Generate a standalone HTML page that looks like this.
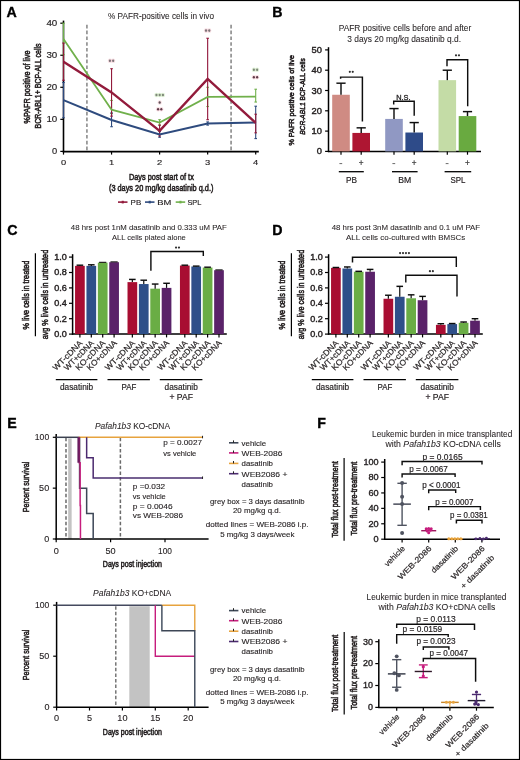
<!DOCTYPE html>
<html><head><meta charset="utf-8"><title>Figure</title>
<style>html,body{margin:0;padding:0;background:#fff;}body{width:520px;height:760px;overflow:hidden;font-family:"Liberation Sans", sans-serif;}svg{display:block;will-change:transform;}</style>
</head><body>
<svg width="520" height="760" viewBox="0 0 520 760" font-family='"Liberation Sans", sans-serif' fill="#231f20">
<rect x="0" y="0" width="520" height="760" fill="#fff"/>
<defs><filter id="b" x="0" y="0" width="1" height="1"><feGaussianBlur stdDeviation="0.35"/></filter></defs>
<g filter="url(#b)">
<text x="6.6" y="17" font-size="14.2" font-weight="bold" fill="#000" stroke="#000" stroke-width="0.35">A</text>
<text x="161" y="19" font-size="8.2" text-anchor="middle" textLength="106" lengthAdjust="spacingAndGlyphs" stroke="#231f20" stroke-width="0.06">% PAFR-positive cells in vivo</text>
<line x1="86.93" y1="24.8" x2="86.93" y2="151.4" stroke="#767676" stroke-width="1.35" stroke-dasharray="3.6,2.2"/>
<line x1="231.07" y1="24.8" x2="231.07" y2="151.4" stroke="#767676" stroke-width="1.35" stroke-dasharray="3.6,2.2"/>
<line x1="63.5" y1="20.6" x2="63.5" y2="152.3" stroke="#000" stroke-width="1.6" />
<line x1="62.7" y1="151.6" x2="258.8" y2="151.6" stroke="#000" stroke-width="1.9" />
<line x1="60.3" y1="151.4" x2="63.5" y2="151.4" stroke="#000" stroke-width="1.2" />
<text x="57.3" y="154.1" font-size="8.2" text-anchor="end" textLength="5.2" lengthAdjust="spacingAndGlyphs" stroke="#231f20" stroke-width="0.15">0</text>
<line x1="60.3" y1="119.35" x2="63.5" y2="119.35" stroke="#000" stroke-width="1.2" />
<text x="57.3" y="122.05" font-size="8.2" text-anchor="end" textLength="10.9" lengthAdjust="spacingAndGlyphs" stroke="#231f20" stroke-width="0.15">10</text>
<line x1="60.3" y1="87.3" x2="63.5" y2="87.3" stroke="#000" stroke-width="1.2" />
<text x="57.3" y="90" font-size="8.2" text-anchor="end" textLength="10.9" lengthAdjust="spacingAndGlyphs" stroke="#231f20" stroke-width="0.15">20</text>
<line x1="60.3" y1="55.25" x2="63.5" y2="55.25" stroke="#000" stroke-width="1.2" />
<text x="57.3" y="57.95" font-size="8.2" text-anchor="end" textLength="10.9" lengthAdjust="spacingAndGlyphs" stroke="#231f20" stroke-width="0.15">30</text>
<line x1="60.3" y1="23.2" x2="63.5" y2="23.2" stroke="#000" stroke-width="1.2" />
<text x="57.3" y="25.9" font-size="8.2" text-anchor="end" textLength="10.9" lengthAdjust="spacingAndGlyphs" stroke="#231f20" stroke-width="0.15">40</text>
<line x1="63.5" y1="151.4" x2="63.5" y2="154.6" stroke="#000" stroke-width="1.2" />
<text x="63.5" y="165.3" font-size="8" text-anchor="middle" textLength="5.2" lengthAdjust="spacingAndGlyphs" stroke="#231f20" stroke-width="0.15">0</text>
<line x1="111.55" y1="151.4" x2="111.55" y2="154.6" stroke="#000" stroke-width="1.2" />
<text x="111.55" y="165.3" font-size="8" text-anchor="middle" textLength="5.2" lengthAdjust="spacingAndGlyphs" stroke="#231f20" stroke-width="0.15">1</text>
<line x1="159.6" y1="151.4" x2="159.6" y2="154.6" stroke="#000" stroke-width="1.2" />
<text x="159.6" y="165.3" font-size="8" text-anchor="middle" textLength="5.2" lengthAdjust="spacingAndGlyphs" stroke="#231f20" stroke-width="0.15">2</text>
<line x1="207.65" y1="151.4" x2="207.65" y2="154.6" stroke="#000" stroke-width="1.2" />
<text x="207.65" y="165.3" font-size="8" text-anchor="middle" textLength="5.2" lengthAdjust="spacingAndGlyphs" stroke="#231f20" stroke-width="0.15">3</text>
<line x1="255.7" y1="151.4" x2="255.7" y2="154.6" stroke="#000" stroke-width="1.2" />
<text x="255.7" y="165.3" font-size="8" text-anchor="middle" textLength="5.2" lengthAdjust="spacingAndGlyphs" stroke="#231f20" stroke-width="0.15">4</text>
<text transform="translate(30.2,87) rotate(-90)" x="0" y="0" font-size="9.4" text-anchor="middle" textLength="73" lengthAdjust="spacingAndGlyphs" stroke="#231f20" stroke-width="0.55">%PAFR positive of live</text>
<text transform="translate(41,86) rotate(-90)" x="0" y="0" font-size="9.4" text-anchor="middle" textLength="85" lengthAdjust="spacingAndGlyphs" stroke="#231f20" stroke-width="0.55">BCR-ABL1+ BCP-ALL cells</text>
<text x="161.4" y="179.8" font-size="9.4" text-anchor="middle" textLength="64.8" lengthAdjust="spacingAndGlyphs" stroke="#231f20" stroke-width="0.55">Days post start of tx</text>
<text x="161.2" y="191.2" font-size="9.4" text-anchor="middle" textLength="104.5" lengthAdjust="spacingAndGlyphs" stroke="#231f20" stroke-width="0.55">(3 days 20 mg/kg dasatinib q.d.)</text>
<line x1="118" y1="202.1" x2="127.5" y2="202.1" stroke="#921a3b" stroke-width="1.6" />
<rect x="121.7" y="200.8" width="2.1" height="2.6" fill="#921a3b"/>
<text x="130.6" y="204.6" font-size="7.6" textLength="10.6" lengthAdjust="spacingAndGlyphs" stroke="#231f20" stroke-width="0.15">PB</text>
<line x1="145" y1="202.1" x2="154.5" y2="202.1" stroke="#2e4b7e" stroke-width="1.6" />
<rect x="148.7" y="200.8" width="2.1" height="2.6" fill="#2e4b7e"/>
<text x="157.2" y="204.6" font-size="7.6" textLength="14.1" lengthAdjust="spacingAndGlyphs" stroke="#231f20" stroke-width="0.15">BM</text>
<line x1="175.7" y1="202.1" x2="185.2" y2="202.1" stroke="#70b04b" stroke-width="1.6" />
<rect x="179.4" y="200.8" width="2.1" height="2.6" fill="#70b04b"/>
<text x="187.4" y="204.6" font-size="7.6" textLength="14" lengthAdjust="spacingAndGlyphs" stroke="#231f20" stroke-width="0.15">SPL</text>
<line x1="63.5" y1="23.2" x2="63.5" y2="54.61" stroke="#70b04b" stroke-width="1.1" />
<line x1="62.2" y1="23.2" x2="64.8" y2="23.2" stroke="#70b04b" stroke-width="1.1" />
<line x1="62.2" y1="54.61" x2="64.8" y2="54.61" stroke="#70b04b" stroke-width="1.1" />
<line x1="111.55" y1="100.44" x2="111.55" y2="113.58" stroke="#70b04b" stroke-width="1.1" />
<line x1="110.25" y1="100.44" x2="112.85" y2="100.44" stroke="#70b04b" stroke-width="1.1" />
<line x1="110.25" y1="113.58" x2="112.85" y2="113.58" stroke="#70b04b" stroke-width="1.1" />
<line x1="159.6" y1="119.67" x2="159.6" y2="125.12" stroke="#70b04b" stroke-width="1.1" />
<line x1="158.3" y1="119.67" x2="160.9" y2="119.67" stroke="#70b04b" stroke-width="1.1" />
<line x1="158.3" y1="125.12" x2="160.9" y2="125.12" stroke="#70b04b" stroke-width="1.1" />
<line x1="207.65" y1="87.3" x2="207.65" y2="106.53" stroke="#70b04b" stroke-width="1.1" />
<line x1="206.35" y1="87.3" x2="208.95" y2="87.3" stroke="#70b04b" stroke-width="1.1" />
<line x1="206.35" y1="106.53" x2="208.95" y2="106.53" stroke="#70b04b" stroke-width="1.1" />
<line x1="255.7" y1="89.22" x2="255.7" y2="102.04" stroke="#70b04b" stroke-width="1.1" />
<line x1="254.4" y1="89.22" x2="257" y2="89.22" stroke="#70b04b" stroke-width="1.1" />
<line x1="254.4" y1="102.04" x2="257" y2="102.04" stroke="#70b04b" stroke-width="1.1" />
<line x1="63.5" y1="82.49" x2="63.5" y2="117.75" stroke="#2e4b7e" stroke-width="1.1" />
<line x1="62.2" y1="82.49" x2="64.8" y2="82.49" stroke="#2e4b7e" stroke-width="1.1" />
<line x1="62.2" y1="117.75" x2="64.8" y2="117.75" stroke="#2e4b7e" stroke-width="1.1" />
<line x1="111.55" y1="112.94" x2="111.55" y2="126.72" stroke="#2e4b7e" stroke-width="1.1" />
<line x1="110.25" y1="112.94" x2="112.85" y2="112.94" stroke="#2e4b7e" stroke-width="1.1" />
<line x1="110.25" y1="126.72" x2="112.85" y2="126.72" stroke="#2e4b7e" stroke-width="1.1" />
<line x1="159.6" y1="131.53" x2="159.6" y2="137.3" stroke="#2e4b7e" stroke-width="1.1" />
<line x1="158.3" y1="131.53" x2="160.9" y2="131.53" stroke="#2e4b7e" stroke-width="1.1" />
<line x1="158.3" y1="137.3" x2="160.9" y2="137.3" stroke="#2e4b7e" stroke-width="1.1" />
<line x1="207.65" y1="121.91" x2="207.65" y2="125.12" stroke="#2e4b7e" stroke-width="1.1" />
<line x1="206.35" y1="121.91" x2="208.95" y2="121.91" stroke="#2e4b7e" stroke-width="1.1" />
<line x1="206.35" y1="125.12" x2="208.95" y2="125.12" stroke="#2e4b7e" stroke-width="1.1" />
<line x1="255.7" y1="106.21" x2="255.7" y2="138.58" stroke="#2e4b7e" stroke-width="1.1" />
<line x1="254.4" y1="106.21" x2="257" y2="106.21" stroke="#2e4b7e" stroke-width="1.1" />
<line x1="254.4" y1="138.58" x2="257" y2="138.58" stroke="#2e4b7e" stroke-width="1.1" />
<line x1="63.5" y1="43.07" x2="63.5" y2="80.25" stroke="#921a3b" stroke-width="1.1" />
<line x1="62.2" y1="43.07" x2="64.8" y2="43.07" stroke="#921a3b" stroke-width="1.1" />
<line x1="62.2" y1="80.25" x2="64.8" y2="80.25" stroke="#921a3b" stroke-width="1.1" />
<line x1="111.55" y1="68.71" x2="111.55" y2="116.15" stroke="#921a3b" stroke-width="1.1" />
<line x1="110.25" y1="68.71" x2="112.85" y2="68.71" stroke="#921a3b" stroke-width="1.1" />
<line x1="110.25" y1="116.15" x2="112.85" y2="116.15" stroke="#921a3b" stroke-width="1.1" />
<line x1="159.6" y1="125.12" x2="159.6" y2="136.02" stroke="#921a3b" stroke-width="1.1" />
<line x1="158.3" y1="125.12" x2="160.9" y2="125.12" stroke="#921a3b" stroke-width="1.1" />
<line x1="158.3" y1="136.02" x2="160.9" y2="136.02" stroke="#921a3b" stroke-width="1.1" />
<line x1="207.65" y1="38.26" x2="207.65" y2="119.67" stroke="#921a3b" stroke-width="1.1" />
<line x1="206.35" y1="38.26" x2="208.95" y2="38.26" stroke="#921a3b" stroke-width="1.1" />
<line x1="206.35" y1="119.67" x2="208.95" y2="119.67" stroke="#921a3b" stroke-width="1.1" />
<line x1="255.7" y1="114.22" x2="255.7" y2="132.81" stroke="#921a3b" stroke-width="1.1" />
<line x1="254.4" y1="114.22" x2="257" y2="114.22" stroke="#921a3b" stroke-width="1.1" />
<line x1="254.4" y1="132.81" x2="257" y2="132.81" stroke="#921a3b" stroke-width="1.1" />
<polyline points="63.5,38.9 111.55,109.74 159.6,122.56 207.65,96.92 255.7,96.59" stroke="#70b04b" stroke-width="1.8" fill="none" stroke-linejoin="miter" />
<polyline points="63.5,100.12 111.55,119.99 159.6,134.41 207.65,123.52 255.7,122.56" stroke="#2e4b7e" stroke-width="2" fill="none" stroke-linejoin="miter" />
<polyline points="63.5,61.66 111.55,92.43 159.6,130.89 207.65,78.97 255.7,122.88" stroke="#921a3b" stroke-width="2.4" fill="none" stroke-linejoin="miter" />
<ellipse cx="109.92" cy="60.8" rx="2.1" ry="2.3" fill="#eaa0ae" fill-opacity="0.35"/>
<ellipse cx="113.17" cy="60.8" rx="2.1" ry="2.3" fill="#eaa0ae" fill-opacity="0.35"/>
<ellipse cx="109.92" cy="60.8" rx="1.1" ry="1.3" fill="#7d7478"/>
<ellipse cx="113.17" cy="60.8" rx="1.1" ry="1.3" fill="#7d7478"/>
<ellipse cx="156.45" cy="95" rx="2.1" ry="2.3" fill="#a8d890" fill-opacity="0.35"/>
<ellipse cx="159.7" cy="95" rx="2.1" ry="2.3" fill="#a8d890" fill-opacity="0.35"/>
<ellipse cx="162.95" cy="95" rx="2.1" ry="2.3" fill="#a8d890" fill-opacity="0.35"/>
<ellipse cx="156.45" cy="95" rx="1.1" ry="1.3" fill="#7f887a"/>
<ellipse cx="159.7" cy="95" rx="1.1" ry="1.3" fill="#7f887a"/>
<ellipse cx="162.95" cy="95" rx="1.1" ry="1.3" fill="#7f887a"/>
<ellipse cx="159.7" cy="102.5" rx="2.1" ry="2.3" fill="#eaa0ae" fill-opacity="0.35"/>
<ellipse cx="159.7" cy="102.5" rx="1.1" ry="1.3" fill="#5e5258"/>
<ellipse cx="158.07" cy="109.2" rx="2.1" ry="2.3" fill="#eaa0ae" fill-opacity="0.35"/>
<ellipse cx="161.32" cy="109.2" rx="2.1" ry="2.3" fill="#eaa0ae" fill-opacity="0.35"/>
<ellipse cx="158.07" cy="109.2" rx="1.1" ry="1.3" fill="#5e3a48"/>
<ellipse cx="161.32" cy="109.2" rx="1.1" ry="1.3" fill="#5e3a48"/>
<ellipse cx="206.02" cy="30.6" rx="2.1" ry="2.3" fill="#eaa0ae" fill-opacity="0.35"/>
<ellipse cx="209.27" cy="30.6" rx="2.1" ry="2.3" fill="#eaa0ae" fill-opacity="0.35"/>
<ellipse cx="206.02" cy="30.6" rx="1.1" ry="1.3" fill="#7d7478"/>
<ellipse cx="209.27" cy="30.6" rx="1.1" ry="1.3" fill="#7d7478"/>
<ellipse cx="253.88" cy="69.8" rx="2.1" ry="2.3" fill="#a8d890" fill-opacity="0.35"/>
<ellipse cx="257.12" cy="69.8" rx="2.1" ry="2.3" fill="#a8d890" fill-opacity="0.35"/>
<ellipse cx="253.88" cy="69.8" rx="1.1" ry="1.3" fill="#7f887a"/>
<ellipse cx="257.12" cy="69.8" rx="1.1" ry="1.3" fill="#7f887a"/>
<ellipse cx="253.88" cy="77.2" rx="2.1" ry="2.3" fill="#eaa0ae" fill-opacity="0.35"/>
<ellipse cx="257.12" cy="77.2" rx="2.1" ry="2.3" fill="#eaa0ae" fill-opacity="0.35"/>
<ellipse cx="253.88" cy="77.2" rx="1.1" ry="1.3" fill="#5e3a48"/>
<ellipse cx="257.12" cy="77.2" rx="1.1" ry="1.3" fill="#5e3a48"/>
<text x="272.3" y="17" font-size="14.2" font-weight="bold" fill="#000" stroke="#000" stroke-width="0.35">B</text>
<text x="405" y="30.9" font-size="8.2" text-anchor="middle" textLength="132.6" lengthAdjust="spacingAndGlyphs" stroke="#231f20" stroke-width="0.06">PAFR positive cells before and after</text>
<text x="404.2" y="41.8" font-size="8.2" text-anchor="middle" textLength="113.8" lengthAdjust="spacingAndGlyphs" stroke="#231f20" stroke-width="0.06">3 days 20 mg/kg dasatinib q.d.</text>
<line x1="328.5" y1="47.2" x2="328.5" y2="152.1" stroke="#000" stroke-width="1.5" />
<line x1="327.8" y1="151.4" x2="481" y2="151.4" stroke="#000" stroke-width="1.5" />
<line x1="325.1" y1="151.4" x2="328.5" y2="151.4" stroke="#000" stroke-width="1.2" />
<text x="322" y="154.4" font-size="8.4" text-anchor="end" textLength="5.2" lengthAdjust="spacingAndGlyphs" stroke="#231f20" stroke-width="0.38">0</text>
<line x1="325.1" y1="131.1" x2="328.5" y2="131.1" stroke="#000" stroke-width="1.2" />
<text x="322" y="134.1" font-size="8.4" text-anchor="end" textLength="10.4" lengthAdjust="spacingAndGlyphs" stroke="#231f20" stroke-width="0.38">10</text>
<line x1="325.1" y1="110.8" x2="328.5" y2="110.8" stroke="#000" stroke-width="1.2" />
<text x="322" y="113.8" font-size="8.4" text-anchor="end" textLength="10.4" lengthAdjust="spacingAndGlyphs" stroke="#231f20" stroke-width="0.38">20</text>
<line x1="325.1" y1="90.5" x2="328.5" y2="90.5" stroke="#000" stroke-width="1.2" />
<text x="322" y="93.5" font-size="8.4" text-anchor="end" textLength="10.4" lengthAdjust="spacingAndGlyphs" stroke="#231f20" stroke-width="0.38">30</text>
<line x1="325.1" y1="70.2" x2="328.5" y2="70.2" stroke="#000" stroke-width="1.2" />
<text x="322" y="73.2" font-size="8.4" text-anchor="end" textLength="10.4" lengthAdjust="spacingAndGlyphs" stroke="#231f20" stroke-width="0.38">40</text>
<line x1="325.1" y1="49.9" x2="328.5" y2="49.9" stroke="#000" stroke-width="1.2" />
<text x="322" y="52.9" font-size="8.4" text-anchor="end" textLength="10.4" lengthAdjust="spacingAndGlyphs" stroke="#231f20" stroke-width="0.38">50</text>
<text transform="translate(294.3,100.3) rotate(-90)" x="0" y="0" font-size="7.9" text-anchor="middle" textLength="90.5" lengthAdjust="spacingAndGlyphs" stroke="#231f20" stroke-width="0.55">% PAFR positive cells of live</text>
<text transform="translate(304.9,96.5) rotate(-90)" x="0" y="0" font-size="8.0" text-anchor="middle" textLength="76.6" lengthAdjust="spacingAndGlyphs" stroke="#231f20" stroke-width="0.55"><tspan font-style="italic">BCR-ABL1</tspan> BCP-ALL cells</text>
<rect x="332.2" y="94.76" width="17.6" height="56.64" fill="#cf8b83"/>
<line x1="341" y1="94.76" x2="341" y2="83.19" stroke="#111" stroke-width="1.45" />
<line x1="336.4" y1="83.19" x2="345.6" y2="83.19" stroke="#111" stroke-width="1.45" />
<line x1="341" y1="151.4" x2="341" y2="154.7" stroke="#000" stroke-width="1.2" />
<rect x="352.4" y="132.93" width="17.6" height="18.47" fill="#ae1231"/>
<line x1="361.2" y1="132.93" x2="361.2" y2="127.85" stroke="#111" stroke-width="1.45" />
<line x1="356.6" y1="127.85" x2="365.8" y2="127.85" stroke="#111" stroke-width="1.45" />
<line x1="361.2" y1="151.4" x2="361.2" y2="154.7" stroke="#000" stroke-width="1.2" />
<rect x="385.2" y="118.92" width="17.6" height="32.48" fill="#9098c3"/>
<line x1="394" y1="118.92" x2="394" y2="108.57" stroke="#111" stroke-width="1.45" />
<line x1="389.4" y1="108.57" x2="398.6" y2="108.57" stroke="#111" stroke-width="1.45" />
<line x1="394" y1="151.4" x2="394" y2="154.7" stroke="#000" stroke-width="1.2" />
<rect x="405.4" y="132.52" width="17.6" height="18.88" fill="#2d4c89"/>
<line x1="414.2" y1="132.52" x2="414.2" y2="122.57" stroke="#111" stroke-width="1.45" />
<line x1="409.6" y1="122.57" x2="418.8" y2="122.57" stroke="#111" stroke-width="1.45" />
<line x1="414.2" y1="151.4" x2="414.2" y2="154.7" stroke="#000" stroke-width="1.2" />
<rect x="438.5" y="80.15" width="17.6" height="71.25" fill="#c4dca6"/>
<line x1="447.3" y1="80.15" x2="447.3" y2="70.2" stroke="#111" stroke-width="1.45" />
<line x1="442.7" y1="70.2" x2="451.9" y2="70.2" stroke="#111" stroke-width="1.45" />
<line x1="447.3" y1="151.4" x2="447.3" y2="154.7" stroke="#000" stroke-width="1.2" />
<rect x="458.7" y="116.08" width="17.6" height="35.32" fill="#69aa3f"/>
<line x1="467.5" y1="116.08" x2="467.5" y2="111.61" stroke="#111" stroke-width="1.45" />
<line x1="462.9" y1="111.61" x2="472.1" y2="111.61" stroke="#111" stroke-width="1.45" />
<line x1="467.5" y1="151.4" x2="467.5" y2="154.7" stroke="#000" stroke-width="1.2" />
<line x1="339.4" y1="163.6" x2="342.2" y2="163.6" stroke="#444" stroke-width="0.8" />
<text x="361.2" y="166.3" font-size="8.2" text-anchor="middle" fill="#333" stroke="#333" stroke-width="0.18">+</text>
<line x1="392.4" y1="163.6" x2="395.2" y2="163.6" stroke="#444" stroke-width="0.8" />
<text x="414.2" y="166.3" font-size="8.2" text-anchor="middle" fill="#333" stroke="#333" stroke-width="0.18">+</text>
<line x1="445.7" y1="163.6" x2="448.5" y2="163.6" stroke="#444" stroke-width="0.8" />
<text x="467.5" y="166.3" font-size="8.2" text-anchor="middle" fill="#333" stroke="#333" stroke-width="0.18">+</text>
<polyline points="340.6,78.69 340.6,77.1 362.4,77.1 362.4,121.5" stroke="#111" stroke-width="1.45" fill="none" stroke-linejoin="miter" />
<circle cx="349.82" cy="71.8" r="1.08" fill="#2e2e2e"/>
<circle cx="352.77" cy="71.8" r="1.08" fill="#2e2e2e"/>
<polyline points="393.7,104.6 393.7,101.2 414.2,101.2 414.2,115.7" stroke="#111" stroke-width="1.45" fill="none" stroke-linejoin="miter" />
<text x="403.4" y="99.6" font-size="7.6" text-anchor="middle" textLength="14.4" lengthAdjust="spacingAndGlyphs" stroke="#231f20" stroke-width="0.3">N.S.</text>
<polyline points="447,66.3 447,59.8 467.7,59.8 467.7,106.3" stroke="#111" stroke-width="1.45" fill="none" stroke-linejoin="miter" />
<circle cx="456.02" cy="55.3" r="1.08" fill="#2e2e2e"/>
<circle cx="458.97" cy="55.3" r="1.08" fill="#2e2e2e"/>
<line x1="338.8" y1="171.7" x2="363.8" y2="171.7" stroke="#000" stroke-width="1.3" />
<text x="351.4" y="182.7" font-size="8.2" text-anchor="middle" textLength="11" lengthAdjust="spacingAndGlyphs" stroke="#231f20" stroke-width="0.18">PB</text>
<line x1="392" y1="171.7" x2="417.6" y2="171.7" stroke="#000" stroke-width="1.3" />
<text x="404.8" y="182.7" font-size="8.2" text-anchor="middle" textLength="13" lengthAdjust="spacingAndGlyphs" stroke="#231f20" stroke-width="0.18">BM</text>
<line x1="444.6" y1="171.7" x2="471.2" y2="171.7" stroke="#000" stroke-width="1.3" />
<text x="457.9" y="182.7" font-size="8.2" text-anchor="middle" textLength="15" lengthAdjust="spacingAndGlyphs" stroke="#231f20" stroke-width="0.18">SPL</text>
<text x="7.3" y="234.6" font-size="14.2" font-weight="bold" fill="#000" stroke="#000" stroke-width="0.35">C</text>
<text x="148.8" y="230.4" font-size="7.4" text-anchor="middle" textLength="156" lengthAdjust="spacingAndGlyphs" stroke="#231f20" stroke-width="0.06">48 hrs post 1nM dasatinib and 0.333 uM PAF</text>
<text x="148.9" y="239.9" font-size="7.4" text-anchor="middle" textLength="73.9" lengthAdjust="spacingAndGlyphs" stroke="#231f20" stroke-width="0.06">ALL cells plated alone</text>
<line x1="72.6" y1="254.2" x2="72.6" y2="334.8" stroke="#000" stroke-width="1.5" />
<line x1="71.9" y1="334.1" x2="226.8" y2="334.1" stroke="#000" stroke-width="1.5" />
<line x1="69" y1="334.1" x2="72.6" y2="334.1" stroke="#000" stroke-width="1.2" />
<text x="66.8" y="336.9" font-size="8.2" text-anchor="end" textLength="12.6" lengthAdjust="spacingAndGlyphs" stroke="#231f20" stroke-width="0.38">0.0</text>
<line x1="69" y1="318.7" x2="72.6" y2="318.7" stroke="#000" stroke-width="1.2" />
<text x="66.8" y="321.5" font-size="8.2" text-anchor="end" textLength="12.6" lengthAdjust="spacingAndGlyphs" stroke="#231f20" stroke-width="0.38">0.2</text>
<line x1="69" y1="303.3" x2="72.6" y2="303.3" stroke="#000" stroke-width="1.2" />
<text x="66.8" y="306.1" font-size="8.2" text-anchor="end" textLength="12.6" lengthAdjust="spacingAndGlyphs" stroke="#231f20" stroke-width="0.38">0.4</text>
<line x1="69" y1="287.9" x2="72.6" y2="287.9" stroke="#000" stroke-width="1.2" />
<text x="66.8" y="290.7" font-size="8.2" text-anchor="end" textLength="12.6" lengthAdjust="spacingAndGlyphs" stroke="#231f20" stroke-width="0.38">0.6</text>
<line x1="69" y1="272.5" x2="72.6" y2="272.5" stroke="#000" stroke-width="1.2" />
<text x="66.8" y="275.3" font-size="8.2" text-anchor="end" textLength="12.6" lengthAdjust="spacingAndGlyphs" stroke="#231f20" stroke-width="0.38">0.8</text>
<line x1="69" y1="257.1" x2="72.6" y2="257.1" stroke="#000" stroke-width="1.2" />
<text x="66.8" y="259.9" font-size="8.2" text-anchor="end" textLength="12.6" lengthAdjust="spacingAndGlyphs" stroke="#231f20" stroke-width="0.38">1.0</text>
<text transform="translate(28.6,295) rotate(-90)" x="0" y="0" font-size="9.2" text-anchor="middle" textLength="68.8" lengthAdjust="spacingAndGlyphs" stroke="#231f20" stroke-width="0.55">% live cells in treated</text>
<line x1="35.4" y1="253.2" x2="35.4" y2="336.2" stroke="#000" stroke-width="1.2" />
<text transform="translate(48.4,294.6) rotate(-90)" x="0" y="0" font-size="9.2" text-anchor="middle" textLength="89.5" lengthAdjust="spacingAndGlyphs" stroke="#231f20" stroke-width="0.55">avg % live cells in untreated</text>
<rect x="75.05" y="265.88" width="9.7" height="68.22" fill="#a80f31"/>
<line x1="79.9" y1="265.88" x2="79.9" y2="265.19" stroke="#111" stroke-width="1.2" />
<line x1="76.6" y1="265.19" x2="83.2" y2="265.19" stroke="#111" stroke-width="1.45" />
<line x1="79.9" y1="334.1" x2="79.9" y2="337.4" stroke="#000" stroke-width="1.2" />
<text transform="translate(83.1,343.7) rotate(-45)" x="0" y="0" font-size="8.2" text-anchor="end" textLength="38.5" lengthAdjust="spacingAndGlyphs" stroke="#231f20" stroke-width="0.18">WT-cDNA</text>
<rect x="86.45" y="265.88" width="9.7" height="68.22" fill="#2e4f89"/>
<line x1="91.3" y1="265.88" x2="91.3" y2="264.8" stroke="#111" stroke-width="1.2" />
<line x1="88" y1="264.8" x2="94.6" y2="264.8" stroke="#111" stroke-width="1.45" />
<line x1="91.3" y1="334.1" x2="91.3" y2="337.4" stroke="#000" stroke-width="1.2" />
<text transform="translate(94.5,343.7) rotate(-45)" x="0" y="0" font-size="8.2" text-anchor="end" textLength="38.5" lengthAdjust="spacingAndGlyphs" stroke="#231f20" stroke-width="0.18">WT+cDNA</text>
<rect x="97.85" y="262.64" width="9.7" height="71.46" fill="#6aad45"/>
<line x1="99.1" y1="262.34" x2="106.3" y2="262.34" stroke="#111" stroke-width="1.1" />
<line x1="102.7" y1="334.1" x2="102.7" y2="337.4" stroke="#000" stroke-width="1.2" />
<text transform="translate(105.9,343.7) rotate(-45)" x="0" y="0" font-size="8.2" text-anchor="end" textLength="38.5" lengthAdjust="spacingAndGlyphs" stroke="#231f20" stroke-width="0.18">KO-cDNA</text>
<rect x="109.25" y="262.18" width="9.7" height="71.92" fill="#5a2469"/>
<line x1="110.5" y1="261.88" x2="117.7" y2="261.88" stroke="#111" stroke-width="1.1" />
<line x1="114.1" y1="334.1" x2="114.1" y2="337.4" stroke="#000" stroke-width="1.2" />
<text transform="translate(117.3,343.7) rotate(-45)" x="0" y="0" font-size="8.2" text-anchor="end" textLength="38.5" lengthAdjust="spacingAndGlyphs" stroke="#231f20" stroke-width="0.18">KO+cDNA</text>
<rect x="127.5" y="282.12" width="9.7" height="51.98" fill="#a80f31"/>
<line x1="132.35" y1="282.12" x2="132.35" y2="279.43" stroke="#111" stroke-width="1.2" />
<line x1="129.05" y1="279.43" x2="135.65" y2="279.43" stroke="#111" stroke-width="1.45" />
<line x1="132.35" y1="334.1" x2="132.35" y2="337.4" stroke="#000" stroke-width="1.2" />
<text transform="translate(135.55,343.7) rotate(-45)" x="0" y="0" font-size="8.2" text-anchor="end" textLength="38.5" lengthAdjust="spacingAndGlyphs" stroke="#231f20" stroke-width="0.18">WT-cDNA</text>
<rect x="138.9" y="284.05" width="9.7" height="50.05" fill="#2e4f89"/>
<line x1="143.75" y1="284.05" x2="143.75" y2="280.2" stroke="#111" stroke-width="1.2" />
<line x1="140.45" y1="280.2" x2="147.05" y2="280.2" stroke="#111" stroke-width="1.45" />
<line x1="143.75" y1="334.1" x2="143.75" y2="337.4" stroke="#000" stroke-width="1.2" />
<text transform="translate(146.95,343.7) rotate(-45)" x="0" y="0" font-size="8.2" text-anchor="end" textLength="38.5" lengthAdjust="spacingAndGlyphs" stroke="#231f20" stroke-width="0.18">WT+cDNA</text>
<rect x="150.3" y="288.67" width="9.7" height="45.43" fill="#6aad45"/>
<line x1="155.15" y1="288.67" x2="155.15" y2="284.05" stroke="#111" stroke-width="1.2" />
<line x1="151.85" y1="284.05" x2="158.45" y2="284.05" stroke="#111" stroke-width="1.45" />
<line x1="155.15" y1="334.1" x2="155.15" y2="337.4" stroke="#000" stroke-width="1.2" />
<text transform="translate(158.35,343.7) rotate(-45)" x="0" y="0" font-size="8.2" text-anchor="end" textLength="38.5" lengthAdjust="spacingAndGlyphs" stroke="#231f20" stroke-width="0.18">KO-cDNA</text>
<rect x="161.7" y="287.9" width="9.7" height="46.2" fill="#5a2469"/>
<line x1="166.55" y1="287.9" x2="166.55" y2="283.28" stroke="#111" stroke-width="1.2" />
<line x1="163.25" y1="283.28" x2="169.85" y2="283.28" stroke="#111" stroke-width="1.45" />
<line x1="166.55" y1="334.1" x2="166.55" y2="337.4" stroke="#000" stroke-width="1.2" />
<text transform="translate(169.75,343.7) rotate(-45)" x="0" y="0" font-size="8.2" text-anchor="end" textLength="38.5" lengthAdjust="spacingAndGlyphs" stroke="#231f20" stroke-width="0.18">KO+cDNA</text>
<rect x="179.95" y="265.57" width="9.7" height="68.53" fill="#a80f31"/>
<line x1="184.8" y1="265.57" x2="184.8" y2="265.19" stroke="#111" stroke-width="1.2" />
<line x1="181.5" y1="265.19" x2="188.1" y2="265.19" stroke="#111" stroke-width="1.45" />
<line x1="184.8" y1="334.1" x2="184.8" y2="337.4" stroke="#000" stroke-width="1.2" />
<text transform="translate(188,343.7) rotate(-45)" x="0" y="0" font-size="8.2" text-anchor="end" textLength="38.5" lengthAdjust="spacingAndGlyphs" stroke="#231f20" stroke-width="0.18">WT-cDNA</text>
<rect x="191.35" y="266.49" width="9.7" height="67.61" fill="#2e4f89"/>
<line x1="196.2" y1="266.49" x2="196.2" y2="266.11" stroke="#111" stroke-width="1.2" />
<line x1="192.9" y1="266.11" x2="199.5" y2="266.11" stroke="#111" stroke-width="1.45" />
<line x1="196.2" y1="334.1" x2="196.2" y2="337.4" stroke="#000" stroke-width="1.2" />
<text transform="translate(199.4,343.7) rotate(-45)" x="0" y="0" font-size="8.2" text-anchor="end" textLength="38.5" lengthAdjust="spacingAndGlyphs" stroke="#231f20" stroke-width="0.18">WT+cDNA</text>
<rect x="202.75" y="267.57" width="9.7" height="66.53" fill="#6aad45"/>
<line x1="207.6" y1="267.57" x2="207.6" y2="267.19" stroke="#111" stroke-width="1.2" />
<line x1="204.3" y1="267.19" x2="210.9" y2="267.19" stroke="#111" stroke-width="1.45" />
<line x1="207.6" y1="334.1" x2="207.6" y2="337.4" stroke="#000" stroke-width="1.2" />
<text transform="translate(210.8,343.7) rotate(-45)" x="0" y="0" font-size="8.2" text-anchor="end" textLength="38.5" lengthAdjust="spacingAndGlyphs" stroke="#231f20" stroke-width="0.18">KO-cDNA</text>
<rect x="214.15" y="270.19" width="9.7" height="63.91" fill="#5a2469"/>
<line x1="215.4" y1="269.89" x2="222.6" y2="269.89" stroke="#111" stroke-width="1.1" />
<line x1="219" y1="334.1" x2="219" y2="337.4" stroke="#000" stroke-width="1.2" />
<text transform="translate(222.2,343.7) rotate(-45)" x="0" y="0" font-size="8.2" text-anchor="end" textLength="38.5" lengthAdjust="spacingAndGlyphs" stroke="#231f20" stroke-width="0.18">KO+cDNA</text>
<line x1="55.8" y1="379.7" x2="97.4" y2="379.7" stroke="#000" stroke-width="1.3" />
<line x1="107.5" y1="379.7" x2="149.9" y2="379.7" stroke="#000" stroke-width="1.3" />
<line x1="159.8" y1="379.7" x2="202.4" y2="379.7" stroke="#000" stroke-width="1.3" />
<text x="76.6" y="390.4" font-size="8.2" text-anchor="middle" textLength="33.2" lengthAdjust="spacingAndGlyphs" stroke="#231f20" stroke-width="0.18">dasatinib</text>
<text x="129" y="390.4" font-size="8.2" text-anchor="middle" textLength="14.8" lengthAdjust="spacingAndGlyphs" stroke="#231f20" stroke-width="0.18">PAF</text>
<text x="181.2" y="390.4" font-size="8.2" text-anchor="middle" textLength="33.2" lengthAdjust="spacingAndGlyphs" stroke="#231f20" stroke-width="0.18">dasatinib</text>
<text x="181.2" y="400.3" font-size="8.2" text-anchor="middle" textLength="23.5" lengthAdjust="spacingAndGlyphs" stroke="#231f20" stroke-width="0.18">+ PAF</text>
<polyline points="150.9,270.7 150.9,251.5 203.3,251.5 203.3,255.9" stroke="#111" stroke-width="1.45" fill="none" stroke-linejoin="miter" />
<circle cx="176.03" cy="247.6" r="1.08" fill="#2e2e2e"/>
<circle cx="178.97" cy="247.6" r="1.08" fill="#2e2e2e"/>
<text x="272.3" y="234.6" font-size="14.2" font-weight="bold" fill="#000" stroke="#000" stroke-width="0.35">D</text>
<text x="405.9" y="230.4" font-size="7.4" text-anchor="middle" textLength="148.4" lengthAdjust="spacingAndGlyphs" stroke="#231f20" stroke-width="0.06">48 hrs post 3nM dasatinib and 0.1 uM PAF</text>
<text x="405.6" y="239.9" font-size="7.4" text-anchor="middle" textLength="119.2" lengthAdjust="spacingAndGlyphs" stroke="#231f20" stroke-width="0.06">ALL cells co-cultured with BMSCs</text>
<line x1="328.6" y1="254.2" x2="328.6" y2="334.8" stroke="#000" stroke-width="1.5" />
<line x1="327.9" y1="334.1" x2="482.8" y2="334.1" stroke="#000" stroke-width="1.5" />
<line x1="325" y1="334.1" x2="328.6" y2="334.1" stroke="#000" stroke-width="1.2" />
<text x="322.8" y="336.9" font-size="8.2" text-anchor="end" textLength="12.6" lengthAdjust="spacingAndGlyphs" stroke="#231f20" stroke-width="0.38">0.0</text>
<line x1="325" y1="318.7" x2="328.6" y2="318.7" stroke="#000" stroke-width="1.2" />
<text x="322.8" y="321.5" font-size="8.2" text-anchor="end" textLength="12.6" lengthAdjust="spacingAndGlyphs" stroke="#231f20" stroke-width="0.38">0.2</text>
<line x1="325" y1="303.3" x2="328.6" y2="303.3" stroke="#000" stroke-width="1.2" />
<text x="322.8" y="306.1" font-size="8.2" text-anchor="end" textLength="12.6" lengthAdjust="spacingAndGlyphs" stroke="#231f20" stroke-width="0.38">0.4</text>
<line x1="325" y1="287.9" x2="328.6" y2="287.9" stroke="#000" stroke-width="1.2" />
<text x="322.8" y="290.7" font-size="8.2" text-anchor="end" textLength="12.6" lengthAdjust="spacingAndGlyphs" stroke="#231f20" stroke-width="0.38">0.6</text>
<line x1="325" y1="272.5" x2="328.6" y2="272.5" stroke="#000" stroke-width="1.2" />
<text x="322.8" y="275.3" font-size="8.2" text-anchor="end" textLength="12.6" lengthAdjust="spacingAndGlyphs" stroke="#231f20" stroke-width="0.38">0.8</text>
<line x1="325" y1="257.1" x2="328.6" y2="257.1" stroke="#000" stroke-width="1.2" />
<text x="322.8" y="259.9" font-size="8.2" text-anchor="end" textLength="12.6" lengthAdjust="spacingAndGlyphs" stroke="#231f20" stroke-width="0.38">1.0</text>
<text transform="translate(284.6,295) rotate(-90)" x="0" y="0" font-size="9.2" text-anchor="middle" textLength="68.8" lengthAdjust="spacingAndGlyphs" stroke="#231f20" stroke-width="0.55">% live cells in treated</text>
<line x1="291.4" y1="253.2" x2="291.4" y2="336.2" stroke="#000" stroke-width="1.2" />
<text transform="translate(304.4,294.6) rotate(-90)" x="0" y="0" font-size="9.2" text-anchor="middle" textLength="89.5" lengthAdjust="spacingAndGlyphs" stroke="#231f20" stroke-width="0.55">avg % live cells in untreated</text>
<rect x="331.05" y="267.88" width="9.7" height="66.22" fill="#a80f31"/>
<line x1="335.9" y1="267.88" x2="335.9" y2="267.5" stroke="#111" stroke-width="1.2" />
<line x1="332.6" y1="267.5" x2="339.2" y2="267.5" stroke="#111" stroke-width="1.45" />
<line x1="335.9" y1="334.1" x2="335.9" y2="337.4" stroke="#000" stroke-width="1.2" />
<text transform="translate(339.1,343.7) rotate(-45)" x="0" y="0" font-size="8.2" text-anchor="end" textLength="38.5" lengthAdjust="spacingAndGlyphs" stroke="#231f20" stroke-width="0.18">WT-cDNA</text>
<rect x="342.45" y="268.5" width="9.7" height="65.6" fill="#2e4f89"/>
<line x1="347.3" y1="268.5" x2="347.3" y2="266.96" stroke="#111" stroke-width="1.2" />
<line x1="344" y1="266.96" x2="350.6" y2="266.96" stroke="#111" stroke-width="1.45" />
<line x1="347.3" y1="334.1" x2="347.3" y2="337.4" stroke="#000" stroke-width="1.2" />
<text transform="translate(350.5,343.7) rotate(-45)" x="0" y="0" font-size="8.2" text-anchor="end" textLength="38.5" lengthAdjust="spacingAndGlyphs" stroke="#231f20" stroke-width="0.18">WT+cDNA</text>
<rect x="353.85" y="271.73" width="9.7" height="62.37" fill="#6aad45"/>
<line x1="358.7" y1="271.73" x2="358.7" y2="271.35" stroke="#111" stroke-width="1.2" />
<line x1="355.4" y1="271.35" x2="362" y2="271.35" stroke="#111" stroke-width="1.45" />
<line x1="358.7" y1="334.1" x2="358.7" y2="337.4" stroke="#000" stroke-width="1.2" />
<text transform="translate(361.9,343.7) rotate(-45)" x="0" y="0" font-size="8.2" text-anchor="end" textLength="38.5" lengthAdjust="spacingAndGlyphs" stroke="#231f20" stroke-width="0.18">KO-cDNA</text>
<rect x="365.25" y="271.73" width="9.7" height="62.37" fill="#5a2469"/>
<line x1="370.1" y1="271.73" x2="370.1" y2="269.42" stroke="#111" stroke-width="1.2" />
<line x1="366.8" y1="269.42" x2="373.4" y2="269.42" stroke="#111" stroke-width="1.45" />
<line x1="370.1" y1="334.1" x2="370.1" y2="337.4" stroke="#000" stroke-width="1.2" />
<text transform="translate(373.3,343.7) rotate(-45)" x="0" y="0" font-size="8.2" text-anchor="end" textLength="38.5" lengthAdjust="spacingAndGlyphs" stroke="#231f20" stroke-width="0.18">KO+cDNA</text>
<rect x="383.5" y="298.76" width="9.7" height="35.34" fill="#a80f31"/>
<line x1="388.35" y1="298.76" x2="388.35" y2="295.22" stroke="#111" stroke-width="1.2" />
<line x1="385.05" y1="295.22" x2="391.65" y2="295.22" stroke="#111" stroke-width="1.45" />
<line x1="388.35" y1="334.1" x2="388.35" y2="337.4" stroke="#000" stroke-width="1.2" />
<text transform="translate(391.55,343.7) rotate(-45)" x="0" y="0" font-size="8.2" text-anchor="end" textLength="38.5" lengthAdjust="spacingAndGlyphs" stroke="#231f20" stroke-width="0.18">WT-cDNA</text>
<rect x="394.9" y="296.75" width="9.7" height="37.35" fill="#2e4f89"/>
<line x1="399.75" y1="296.75" x2="399.75" y2="286.36" stroke="#111" stroke-width="1.2" />
<line x1="396.45" y1="286.36" x2="403.05" y2="286.36" stroke="#111" stroke-width="1.45" />
<line x1="399.75" y1="334.1" x2="399.75" y2="337.4" stroke="#000" stroke-width="1.2" />
<text transform="translate(402.95,343.7) rotate(-45)" x="0" y="0" font-size="8.2" text-anchor="end" textLength="38.5" lengthAdjust="spacingAndGlyphs" stroke="#231f20" stroke-width="0.18">WT+cDNA</text>
<rect x="406.3" y="298.3" width="9.7" height="35.81" fill="#6aad45"/>
<line x1="411.15" y1="298.3" x2="411.15" y2="294.83" stroke="#111" stroke-width="1.2" />
<line x1="407.85" y1="294.83" x2="414.45" y2="294.83" stroke="#111" stroke-width="1.45" />
<line x1="411.15" y1="334.1" x2="411.15" y2="337.4" stroke="#000" stroke-width="1.2" />
<text transform="translate(414.35,343.7) rotate(-45)" x="0" y="0" font-size="8.2" text-anchor="end" textLength="38.5" lengthAdjust="spacingAndGlyphs" stroke="#231f20" stroke-width="0.18">KO-cDNA</text>
<rect x="417.7" y="300.22" width="9.7" height="33.88" fill="#5a2469"/>
<line x1="422.55" y1="300.22" x2="422.55" y2="296.37" stroke="#111" stroke-width="1.2" />
<line x1="419.25" y1="296.37" x2="425.85" y2="296.37" stroke="#111" stroke-width="1.45" />
<line x1="422.55" y1="334.1" x2="422.55" y2="337.4" stroke="#000" stroke-width="1.2" />
<text transform="translate(425.75,343.7) rotate(-45)" x="0" y="0" font-size="8.2" text-anchor="end" textLength="38.5" lengthAdjust="spacingAndGlyphs" stroke="#231f20" stroke-width="0.18">KO+cDNA</text>
<rect x="435.95" y="324.86" width="9.7" height="9.24" fill="#a80f31"/>
<line x1="440.8" y1="324.86" x2="440.8" y2="323.71" stroke="#111" stroke-width="1.2" />
<line x1="437.5" y1="323.71" x2="444.1" y2="323.71" stroke="#111" stroke-width="1.45" />
<line x1="440.8" y1="334.1" x2="440.8" y2="337.4" stroke="#000" stroke-width="1.2" />
<text transform="translate(444,343.7) rotate(-45)" x="0" y="0" font-size="8.2" text-anchor="end" textLength="38.5" lengthAdjust="spacingAndGlyphs" stroke="#231f20" stroke-width="0.18">WT-cDNA</text>
<rect x="447.35" y="324.09" width="9.7" height="10.01" fill="#2e4f89"/>
<line x1="452.2" y1="324.09" x2="452.2" y2="323.55" stroke="#111" stroke-width="1.2" />
<line x1="448.9" y1="323.55" x2="455.5" y2="323.55" stroke="#111" stroke-width="1.45" />
<line x1="452.2" y1="334.1" x2="452.2" y2="337.4" stroke="#000" stroke-width="1.2" />
<text transform="translate(455.4,343.7) rotate(-45)" x="0" y="0" font-size="8.2" text-anchor="end" textLength="38.5" lengthAdjust="spacingAndGlyphs" stroke="#231f20" stroke-width="0.18">WT+cDNA</text>
<rect x="458.75" y="322.78" width="9.7" height="11.32" fill="#6aad45"/>
<line x1="463.6" y1="322.78" x2="463.6" y2="322.01" stroke="#111" stroke-width="1.2" />
<line x1="460.3" y1="322.01" x2="466.9" y2="322.01" stroke="#111" stroke-width="1.45" />
<line x1="463.6" y1="334.1" x2="463.6" y2="337.4" stroke="#000" stroke-width="1.2" />
<text transform="translate(466.8,343.7) rotate(-45)" x="0" y="0" font-size="8.2" text-anchor="end" textLength="38.5" lengthAdjust="spacingAndGlyphs" stroke="#231f20" stroke-width="0.18">KO-cDNA</text>
<rect x="470.15" y="320.7" width="9.7" height="13.4" fill="#5a2469"/>
<line x1="475" y1="320.7" x2="475" y2="318.7" stroke="#111" stroke-width="1.2" />
<line x1="471.7" y1="318.7" x2="478.3" y2="318.7" stroke="#111" stroke-width="1.45" />
<line x1="475" y1="334.1" x2="475" y2="337.4" stroke="#000" stroke-width="1.2" />
<text transform="translate(478.2,343.7) rotate(-45)" x="0" y="0" font-size="8.2" text-anchor="end" textLength="38.5" lengthAdjust="spacingAndGlyphs" stroke="#231f20" stroke-width="0.18">KO+cDNA</text>
<line x1="311.8" y1="379.7" x2="353.4" y2="379.7" stroke="#000" stroke-width="1.3" />
<line x1="363.5" y1="379.7" x2="405.9" y2="379.7" stroke="#000" stroke-width="1.3" />
<line x1="415.8" y1="379.7" x2="458.4" y2="379.7" stroke="#000" stroke-width="1.3" />
<text x="332.6" y="390.4" font-size="8.2" text-anchor="middle" textLength="33.2" lengthAdjust="spacingAndGlyphs" stroke="#231f20" stroke-width="0.18">dasatinib</text>
<text x="385" y="390.4" font-size="8.2" text-anchor="middle" textLength="14.8" lengthAdjust="spacingAndGlyphs" stroke="#231f20" stroke-width="0.18">PAF</text>
<text x="437.2" y="390.4" font-size="8.2" text-anchor="middle" textLength="33.2" lengthAdjust="spacingAndGlyphs" stroke="#231f20" stroke-width="0.18">dasatinib</text>
<text x="437.2" y="400.3" font-size="8.2" text-anchor="middle" textLength="23.5" lengthAdjust="spacingAndGlyphs" stroke="#231f20" stroke-width="0.18">+ PAF</text>
<polyline points="352.5,262.6 352.5,257.2 456.3,257.2 456.3,266.9" stroke="#111" stroke-width="1.45" fill="none" stroke-linejoin="miter" />
<circle cx="400.07" cy="253.1" r="1.08" fill="#2e2e2e"/>
<circle cx="403.02" cy="253.1" r="1.08" fill="#2e2e2e"/>
<circle cx="405.97" cy="253.1" r="1.08" fill="#2e2e2e"/>
<circle cx="408.93" cy="253.1" r="1.08" fill="#2e2e2e"/>
<polyline points="405.8,282.4 405.8,275.2 457,275.2 457,296.5" stroke="#111" stroke-width="1.45" fill="none" stroke-linejoin="miter" />
<circle cx="429.92" cy="271.2" r="1.08" fill="#2e2e2e"/>
<circle cx="432.87" cy="271.2" r="1.08" fill="#2e2e2e"/>
<text x="7.3" y="427.7" font-size="14.2" font-weight="bold" fill="#000" stroke="#000" stroke-width="0.35">E</text>
<text x="132.5" y="428.8" font-size="8.4" text-anchor="middle" textLength="75" lengthAdjust="spacingAndGlyphs" stroke="#231f20" stroke-width="0.06"><tspan font-style="italic">Pafah1b3</tspan> KO-cDNA</text>
<rect x="68.17" y="438.5" width="3.48" height="100.5" fill="#c3c3c3"/>
<line x1="65.99" y1="437.8" x2="65.99" y2="539" stroke="#6a6a6a" stroke-width="1.5" stroke-dasharray="3.5,2.1"/>
<line x1="120.39" y1="437.8" x2="120.39" y2="539" stroke="#6a6a6a" stroke-width="1.5" stroke-dasharray="3.5,2.1"/>
<line x1="56.2" y1="434.1" x2="56.2" y2="539.7" stroke="#000" stroke-width="1.5" />
<line x1="55.5" y1="539" x2="208.6" y2="539" stroke="#000" stroke-width="1.5" />
<line x1="52.8" y1="539" x2="56.2" y2="539" stroke="#000" stroke-width="1.2" />
<line x1="52.8" y1="488.15" x2="56.2" y2="488.15" stroke="#000" stroke-width="1.2" />
<line x1="52.8" y1="437.3" x2="56.2" y2="437.3" stroke="#000" stroke-width="1.2" />
<text x="49.2" y="440.1" font-size="8.2" text-anchor="end" textLength="14.4" lengthAdjust="spacingAndGlyphs" stroke="#231f20" stroke-width="0.1">100</text>
<text x="49.2" y="491.05" font-size="8.2" text-anchor="end" textLength="10.1" lengthAdjust="spacingAndGlyphs" stroke="#231f20" stroke-width="0.1">50</text>
<text x="49.2" y="541.8" font-size="8.2" text-anchor="end" textLength="5" lengthAdjust="spacingAndGlyphs" stroke="#231f20" stroke-width="0.1">0</text>
<line x1="56.2" y1="539" x2="56.2" y2="542.3" stroke="#000" stroke-width="1.2" />
<text x="56.2" y="553.6" font-size="8.2" text-anchor="middle" textLength="5.1" lengthAdjust="spacingAndGlyphs" stroke="#231f20" stroke-width="0.1">0</text>
<line x1="110.6" y1="539" x2="110.6" y2="542.3" stroke="#000" stroke-width="1.2" />
<text x="110.6" y="553.6" font-size="8.2" text-anchor="middle" textLength="10.19" lengthAdjust="spacingAndGlyphs" stroke="#231f20" stroke-width="0.1">50</text>
<line x1="165" y1="539" x2="165" y2="542.3" stroke="#000" stroke-width="1.2" />
<text x="165" y="553.6" font-size="8.2" text-anchor="middle" textLength="13.94" lengthAdjust="spacingAndGlyphs" stroke="#231f20" stroke-width="0.1">100</text>
<text transform="translate(29,487) rotate(-90)" x="0" y="0" font-size="9.4" text-anchor="middle" textLength="50.4" lengthAdjust="spacingAndGlyphs" stroke="#231f20" stroke-width="0.55">Percent survival</text>
<text x="132.4" y="567.3" font-size="8.7" text-anchor="middle" textLength="59.2" lengthAdjust="spacingAndGlyphs" stroke="#231f20" stroke-width="0.55">Days post injection</text>
<polyline points="56.2,437.3 79.59,437.3" stroke="#3a3f4f" stroke-width="1.5" fill="none" stroke-linejoin="miter" />
<polyline points="78.72,437.3 202.54,437.3" stroke="#e7a33d" stroke-width="1.5" fill="none" stroke-linejoin="miter" />
<polyline points="86.66,437.3 86.66,457.64 93.19,457.64 93.19,477.98 202.54,477.98" stroke="#4b2c6f" stroke-width="1.5" fill="none" stroke-linejoin="miter" />
<polyline points="79.59,437.3 79.59,488.15 86.66,488.15 86.66,513.58 93.19,513.58 93.19,539" stroke="#3c4657" stroke-width="1.5" fill="none" stroke-linejoin="miter" />
<polyline points="79.27,437.3 79.27,462.73 80.14,462.73 80.14,505.44 80.46,505.44 80.46,539" stroke="#c61f7d" stroke-width="1.5" fill="none" stroke-linejoin="miter" />
<line x1="78.61" y1="437.3" x2="78.61" y2="462.73" stroke="#6a1f5e" stroke-width="2.4" />
<line x1="202.54" y1="435.8" x2="202.54" y2="438.3" stroke="#222" stroke-width="1" />
<line x1="202.54" y1="476.48" x2="202.54" y2="478.98" stroke="#222" stroke-width="1" />
<text x="182.6" y="445.3" font-size="7.8" text-anchor="middle" textLength="38.8" lengthAdjust="spacingAndGlyphs" stroke="#231f20" stroke-width="0.12">p = 0.0027</text>
<text x="179.8" y="455.6" font-size="7.8" text-anchor="middle" textLength="33" lengthAdjust="spacingAndGlyphs" stroke="#231f20" stroke-width="0.12">vs vehicle</text>
<text x="132.8" y="489.3" font-size="7.8" textLength="32.3" lengthAdjust="spacingAndGlyphs" stroke="#231f20" stroke-width="0.12">p =0.032</text>
<text x="132.8" y="498.9" font-size="7.8" textLength="33" lengthAdjust="spacingAndGlyphs" stroke="#231f20" stroke-width="0.12">vs vehicle</text>
<text x="132.8" y="508.5" font-size="7.8" textLength="39.8" lengthAdjust="spacingAndGlyphs" stroke="#231f20" stroke-width="0.12">p = 0.0046</text>
<text x="132.8" y="518" font-size="7.8" textLength="50.2" lengthAdjust="spacingAndGlyphs" stroke="#231f20" stroke-width="0.12">vs WEB-2086</text>
<line x1="229" y1="442.8" x2="238.4" y2="442.8" stroke="#3c4657" stroke-width="1.6" />
<line x1="233.5" y1="440.4" x2="233.5" y2="442.8" stroke="#222" stroke-width="1" />
<text x="241.6" y="445.6" font-size="7.8" textLength="24.6" lengthAdjust="spacingAndGlyphs" stroke="#231f20" stroke-width="0.12">vehicle</text>
<line x1="229" y1="452.9" x2="238.4" y2="452.9" stroke="#c61f7d" stroke-width="1.6" />
<line x1="233.5" y1="450.5" x2="233.5" y2="452.9" stroke="#222" stroke-width="1" />
<text x="241.6" y="455.7" font-size="7.8" textLength="40.8" lengthAdjust="spacingAndGlyphs" stroke="#231f20" stroke-width="0.12">WEB-2086</text>
<line x1="229" y1="463.4" x2="238.4" y2="463.4" stroke="#e7a33d" stroke-width="1.6" />
<line x1="233.5" y1="461" x2="233.5" y2="463.4" stroke="#222" stroke-width="1" />
<text x="241.6" y="466.2" font-size="7.8" textLength="31.4" lengthAdjust="spacingAndGlyphs" stroke="#231f20" stroke-width="0.12">dasatinib</text>
<line x1="229" y1="473.7" x2="238.4" y2="473.7" stroke="#4b2c6f" stroke-width="1.6" />
<line x1="233.5" y1="471.3" x2="233.5" y2="473.7" stroke="#222" stroke-width="1" />
<text x="241.6" y="476.5" font-size="7.8" textLength="45.8" lengthAdjust="spacingAndGlyphs" stroke="#231f20" stroke-width="0.12">WEB2086 +</text>
<text x="241.6" y="486.6" font-size="7.8" textLength="31.4" lengthAdjust="spacingAndGlyphs" stroke="#231f20" stroke-width="0.12">dasatinib</text>
<text x="257.3" y="503.7" font-size="7.8" text-anchor="middle" textLength="94.6" lengthAdjust="spacingAndGlyphs" stroke="#231f20" stroke-width="0.12">grey box = 3 days dasatinib</text>
<text x="256.9" y="512.8" font-size="7.8" text-anchor="middle" textLength="48" lengthAdjust="spacingAndGlyphs" stroke="#231f20" stroke-width="0.12">20 mg/kg q.d.</text>
<text x="257.2" y="527" font-size="7.8" text-anchor="middle" textLength="102.7" lengthAdjust="spacingAndGlyphs" stroke="#231f20" stroke-width="0.12">dotted lines = WEB-2086 i.p.</text>
<text x="257.3" y="536.6" font-size="7.8" text-anchor="middle" textLength="74.3" lengthAdjust="spacingAndGlyphs" stroke="#231f20" stroke-width="0.12">5 mg/kg 3 days/week</text>
<text x="132.2" y="596.3" font-size="8.4" text-anchor="middle" textLength="78.2" lengthAdjust="spacingAndGlyphs" stroke="#231f20" stroke-width="0.06"><tspan font-style="italic">Pafah1b3</tspan> KO+cDNA</text>
<rect x="129.31" y="606.2" width="20.4" height="101" fill="#c3c3c3"/>
<line x1="115.82" y1="606.2" x2="115.82" y2="707.2" stroke="#555" stroke-width="1.2" stroke-dasharray="3.5,2.1"/>
<line x1="56.6" y1="601.9" x2="56.6" y2="707.9" stroke="#000" stroke-width="1.5" />
<line x1="55.9" y1="707.2" x2="208.6" y2="707.2" stroke="#000" stroke-width="1.5" />
<line x1="53.2" y1="707.2" x2="56.6" y2="707.2" stroke="#000" stroke-width="1.2" />
<line x1="53.2" y1="656.2" x2="56.6" y2="656.2" stroke="#000" stroke-width="1.2" />
<line x1="53.2" y1="605.2" x2="56.6" y2="605.2" stroke="#000" stroke-width="1.2" />
<text x="49.4" y="608" font-size="8.2" text-anchor="end" textLength="14.4" lengthAdjust="spacingAndGlyphs" stroke="#231f20" stroke-width="0.1">100</text>
<text x="49.4" y="659.1" font-size="8.2" text-anchor="end" textLength="10.1" lengthAdjust="spacingAndGlyphs" stroke="#231f20" stroke-width="0.1">50</text>
<text x="49.4" y="710" font-size="8.2" text-anchor="end" textLength="5" lengthAdjust="spacingAndGlyphs" stroke="#231f20" stroke-width="0.1">0</text>
<line x1="56.6" y1="707.2" x2="56.6" y2="710.5" stroke="#000" stroke-width="1.2" />
<text x="56.6" y="721" font-size="8.2" text-anchor="middle" textLength="5.1" lengthAdjust="spacingAndGlyphs" stroke="#231f20" stroke-width="0.1">0</text>
<line x1="89.5" y1="707.2" x2="89.5" y2="710.5" stroke="#000" stroke-width="1.2" />
<text x="89.5" y="721" font-size="8.2" text-anchor="middle" textLength="5.1" lengthAdjust="spacingAndGlyphs" stroke="#231f20" stroke-width="0.1">5</text>
<line x1="122.4" y1="707.2" x2="122.4" y2="710.5" stroke="#000" stroke-width="1.2" />
<text x="122.4" y="721" font-size="8.2" text-anchor="middle" textLength="10.2" lengthAdjust="spacingAndGlyphs" stroke="#231f20" stroke-width="0.1">10</text>
<line x1="155.3" y1="707.2" x2="155.3" y2="710.5" stroke="#000" stroke-width="1.2" />
<text x="155.3" y="721" font-size="8.2" text-anchor="middle" textLength="10.2" lengthAdjust="spacingAndGlyphs" stroke="#231f20" stroke-width="0.1">15</text>
<line x1="188.2" y1="707.2" x2="188.2" y2="710.5" stroke="#000" stroke-width="1.2" />
<text x="188.2" y="721" font-size="8.2" text-anchor="middle" textLength="10.2" lengthAdjust="spacingAndGlyphs" stroke="#231f20" stroke-width="0.1">20</text>
<text transform="translate(29,655) rotate(-90)" x="0" y="0" font-size="9.4" text-anchor="middle" textLength="50.4" lengthAdjust="spacingAndGlyphs" stroke="#231f20" stroke-width="0.55">Percent survival</text>
<text x="132.4" y="735.3" font-size="8.7" text-anchor="middle" textLength="59.2" lengthAdjust="spacingAndGlyphs" stroke="#231f20" stroke-width="0.55">Days post injection</text>
<polyline points="56.6,605.2 161.88,605.2" stroke="#454a5e" stroke-width="1.5" fill="none" stroke-linejoin="miter" />
<polyline points="161.88,605.2 194.78,605.2 194.78,630.7" stroke="#e7a33d" stroke-width="1.4" fill="none" stroke-linejoin="miter" />
<polyline points="155.3,605.2 155.3,656.2 194.78,656.2" stroke="#c61f7d" stroke-width="1.4" fill="none" stroke-linejoin="miter" />
<polyline points="161.88,605.2 161.88,630.7 194.78,630.7 194.78,707.2" stroke="#3c4657" stroke-width="1.4" fill="none" stroke-linejoin="miter" />
<line x1="229" y1="610.6" x2="238.4" y2="610.6" stroke="#3c4657" stroke-width="1.6" />
<line x1="233.5" y1="608.2" x2="233.5" y2="610.6" stroke="#222" stroke-width="1" />
<text x="241.6" y="613.4" font-size="7.8" textLength="24.6" lengthAdjust="spacingAndGlyphs" stroke="#231f20" stroke-width="0.12">vehicle</text>
<line x1="229" y1="620.7" x2="238.4" y2="620.7" stroke="#c61f7d" stroke-width="1.6" />
<line x1="233.5" y1="618.3" x2="233.5" y2="620.7" stroke="#222" stroke-width="1" />
<text x="241.6" y="623.5" font-size="7.8" textLength="40.8" lengthAdjust="spacingAndGlyphs" stroke="#231f20" stroke-width="0.12">WEB-2086</text>
<line x1="229" y1="631.2" x2="238.4" y2="631.2" stroke="#e7a33d" stroke-width="1.6" />
<line x1="233.5" y1="628.8" x2="233.5" y2="631.2" stroke="#222" stroke-width="1" />
<text x="241.6" y="634" font-size="7.8" textLength="31.4" lengthAdjust="spacingAndGlyphs" stroke="#231f20" stroke-width="0.12">dasatinib</text>
<line x1="229" y1="641.5" x2="238.4" y2="641.5" stroke="#4b2c6f" stroke-width="1.6" />
<line x1="233.5" y1="639.1" x2="233.5" y2="641.5" stroke="#222" stroke-width="1" />
<text x="241.6" y="644.3" font-size="7.8" textLength="45.8" lengthAdjust="spacingAndGlyphs" stroke="#231f20" stroke-width="0.12">WEB2086 +</text>
<text x="241.6" y="654.4" font-size="7.8" textLength="31.4" lengthAdjust="spacingAndGlyphs" stroke="#231f20" stroke-width="0.12">dasatinib</text>
<text x="257.3" y="671.5" font-size="7.8" text-anchor="middle" textLength="94.6" lengthAdjust="spacingAndGlyphs" stroke="#231f20" stroke-width="0.12">grey box = 3 days dasatinib</text>
<text x="256.9" y="680.6" font-size="7.8" text-anchor="middle" textLength="48" lengthAdjust="spacingAndGlyphs" stroke="#231f20" stroke-width="0.12">20 mg/kg q.d.</text>
<text x="257.2" y="694.8" font-size="7.8" text-anchor="middle" textLength="102.7" lengthAdjust="spacingAndGlyphs" stroke="#231f20" stroke-width="0.12">dotted lines = WEB-2086 i.p.</text>
<text x="257.3" y="704.4" font-size="7.8" text-anchor="middle" textLength="74.3" lengthAdjust="spacingAndGlyphs" stroke="#231f20" stroke-width="0.12">5 mg/kg 3 days/week</text>
<text x="317.2" y="427.6" font-size="14.2" font-weight="bold" fill="#000" stroke="#000" stroke-width="0.35">F</text>
<text x="442.2" y="437" font-size="8.2" text-anchor="middle" textLength="140.3" lengthAdjust="spacingAndGlyphs" stroke="#231f20" stroke-width="0.06">Leukemic burden in mice transplanted</text>
<text x="443.1" y="447.0" font-size="8.2" text-anchor="middle" textLength="115.4" lengthAdjust="spacingAndGlyphs" stroke="#231f20" stroke-width="0.06">with <tspan font-style="italic">Pafah1b3</tspan> KO-cDNA cells</text>
<line x1="384.7" y1="459" x2="384.7" y2="539.9" stroke="#000" stroke-width="1.5" />
<line x1="384" y1="539.2" x2="500" y2="539.2" stroke="#000" stroke-width="1.5" />
<line x1="381.2" y1="539.2" x2="384.7" y2="539.2" stroke="#000" stroke-width="1.2" />
<text x="378.6" y="542" font-size="8.2" text-anchor="end" textLength="5.1" lengthAdjust="spacingAndGlyphs" stroke="#231f20" stroke-width="0.34">0</text>
<line x1="381.2" y1="523.78" x2="384.7" y2="523.78" stroke="#000" stroke-width="1.2" />
<text x="378.6" y="526.58" font-size="8.2" text-anchor="end" textLength="10.19" lengthAdjust="spacingAndGlyphs" stroke="#231f20" stroke-width="0.34">20</text>
<line x1="381.2" y1="508.36" x2="384.7" y2="508.36" stroke="#000" stroke-width="1.2" />
<text x="378.6" y="511.16" font-size="8.2" text-anchor="end" textLength="10.19" lengthAdjust="spacingAndGlyphs" stroke="#231f20" stroke-width="0.34">40</text>
<line x1="381.2" y1="492.94" x2="384.7" y2="492.94" stroke="#000" stroke-width="1.2" />
<text x="378.6" y="495.74" font-size="8.2" text-anchor="end" textLength="10.19" lengthAdjust="spacingAndGlyphs" stroke="#231f20" stroke-width="0.34">60</text>
<line x1="381.2" y1="477.52" x2="384.7" y2="477.52" stroke="#000" stroke-width="1.2" />
<text x="378.6" y="480.32" font-size="8.2" text-anchor="end" textLength="10.19" lengthAdjust="spacingAndGlyphs" stroke="#231f20" stroke-width="0.34">80</text>
<line x1="381.2" y1="462.1" x2="384.7" y2="462.1" stroke="#000" stroke-width="1.2" />
<text x="378.6" y="464.9" font-size="8.2" text-anchor="end" textLength="15.18" lengthAdjust="spacingAndGlyphs" stroke="#231f20" stroke-width="0.34">100</text>
<text transform="translate(338.4,499.4) rotate(-90)" x="0" y="0" font-size="9.2" text-anchor="middle" textLength="76.3" lengthAdjust="spacingAndGlyphs" stroke="#231f20" stroke-width="0.55">Total flux post-treatment</text>
<line x1="344.1" y1="457.9" x2="344.1" y2="540.8" stroke="#000" stroke-width="1.2" />
<text transform="translate(357,498.6) rotate(-90)" x="0" y="0" font-size="9.2" text-anchor="middle" textLength="73.7" lengthAdjust="spacingAndGlyphs" stroke="#231f20" stroke-width="0.55">Total flux pre-treatment</text>
<line x1="402.1" y1="539.2" x2="402.1" y2="542.5" stroke="#000" stroke-width="1.2" />
<line x1="428.7" y1="539.2" x2="428.7" y2="542.5" stroke="#000" stroke-width="1.2" />
<line x1="455.3" y1="539.2" x2="455.3" y2="542.5" stroke="#000" stroke-width="1.2" />
<line x1="481.9" y1="539.2" x2="481.9" y2="542.5" stroke="#000" stroke-width="1.2" />
<line x1="402.1" y1="483.3" x2="402.1" y2="525.32" stroke="#4f5360" stroke-width="1.4" />
<line x1="397.4" y1="483.3" x2="406.8" y2="483.3" stroke="#4f5360" stroke-width="1.4" />
<line x1="397.4" y1="525.32" x2="406.8" y2="525.32" stroke="#4f5360" stroke-width="1.4" />
<line x1="393.3" y1="504.12" x2="410.9" y2="504.12" stroke="#3b3f4e" stroke-width="1.4" />
<circle cx="402.1" cy="482.92" r="2" fill="#4f5360"/>
<circle cx="402.1" cy="496.8" r="2" fill="#4f5360"/>
<circle cx="402.1" cy="504.12" r="2" fill="#4f5360"/>
<circle cx="402.1" cy="533.03" r="2" fill="#4f5360"/>
<line x1="421.2" y1="530.72" x2="436.2" y2="530.72" stroke="#a0185e" stroke-width="1.4" />
<circle cx="426.2" cy="528.79" r="1.5" fill="#c61f7d"/>
<circle cx="428.7" cy="528.56" r="1.5" fill="#c61f7d"/>
<circle cx="431.2" cy="528.79" r="1.5" fill="#c61f7d"/>
<circle cx="428.7" cy="532.65" r="1.5" fill="#c61f7d"/>
<circle cx="427.2" cy="531.1" r="1.5" fill="#c61f7d"/>
<circle cx="430.2" cy="530.33" r="1.5" fill="#c61f7d"/>
<line x1="425.7" y1="528.79" x2="431.7" y2="528.79" stroke="#c61f7d" stroke-width="1.3" />
<line x1="447.8" y1="538.74" x2="462.8" y2="538.74" stroke="#e7a33d" stroke-width="1.4" />
<circle cx="448.8" cy="538.74" r="1.5" fill="#e7a33d"/>
<circle cx="451.8" cy="538.74" r="1.5" fill="#e7a33d"/>
<circle cx="454.8" cy="538.74" r="1.5" fill="#e7a33d"/>
<circle cx="457.8" cy="538.74" r="1.5" fill="#e7a33d"/>
<circle cx="460.8" cy="538.74" r="1.5" fill="#e7a33d"/>
<line x1="473.9" y1="538.81" x2="489.9" y2="538.81" stroke="#3e2a5c" stroke-width="1.2" />
<circle cx="475.9" cy="538.81" r="1.4" fill="#4b2c6f"/>
<circle cx="479.9" cy="538.43" r="1.4" fill="#4b2c6f"/>
<circle cx="483.4" cy="538.97" r="1.4" fill="#4b2c6f"/>
<circle cx="486.4" cy="538.04" r="1.4" fill="#4b2c6f"/>
<line x1="481.9" y1="539.2" x2="481.9" y2="541.13" stroke="#4b2c6f" stroke-width="1" />
<polyline points="402.1,465.3 402.1,461.4 482,461.4 482,464.5" stroke="#111" stroke-width="1.45" fill="none" stroke-linejoin="miter" />
<polyline points="402.1,477.4 402.1,474 455.1,474 455.1,476.9" stroke="#111" stroke-width="1.45" fill="none" stroke-linejoin="miter" />
<polyline points="428.7,493.2 428.7,489.9 455.7,489.9 455.7,493" stroke="#111" stroke-width="1.45" fill="none" stroke-linejoin="miter" />
<polyline points="428.7,510.2 428.7,506.6 480.4,506.6 480.4,509.9" stroke="#111" stroke-width="1.45" fill="none" stroke-linejoin="miter" />
<polyline points="456.4,523.4 456.4,520.2 482,520.2 482,523.4" stroke="#111" stroke-width="1.45" fill="none" stroke-linejoin="miter" />
<text x="422.6" y="459.7" font-size="8.2" textLength="40" lengthAdjust="spacingAndGlyphs" stroke="#231f20" stroke-width="0.18">p = 0.0165</text>
<text x="409.2" y="471.6" font-size="8.2" textLength="38.6" lengthAdjust="spacingAndGlyphs" stroke="#231f20" stroke-width="0.18">p = 0.0067</text>
<text x="422.2" y="488.1" font-size="8.2" textLength="38.4" lengthAdjust="spacingAndGlyphs" stroke="#231f20" stroke-width="0.18">p &lt; 0.0001</text>
<text x="435.3" y="504.6" font-size="8.2" textLength="38.1" lengthAdjust="spacingAndGlyphs" stroke="#231f20" stroke-width="0.18">p = 0.0007</text>
<text x="450.1" y="518.1" font-size="8.2" textLength="37.7" lengthAdjust="spacingAndGlyphs" stroke="#231f20" stroke-width="0.18">p = 0.0381</text>
<text transform="translate(405.5,549) rotate(-45)" x="0" y="0" font-size="7.8" text-anchor="end" textLength="25.5" lengthAdjust="spacingAndGlyphs" stroke="#231f20" stroke-width="0.18">vehicle</text>
<text transform="translate(432.1,549) rotate(-45)" x="0" y="0" font-size="7.8" text-anchor="end" textLength="44" lengthAdjust="spacingAndGlyphs" stroke="#231f20" stroke-width="0.18">WEB-2086</text>
<text transform="translate(458.7,549) rotate(-45)" x="0" y="0" font-size="7.8" text-anchor="end" textLength="34.8" lengthAdjust="spacingAndGlyphs" stroke="#231f20" stroke-width="0.18">dasatinib</text>
<text transform="translate(485.3,549) rotate(-45)" x="0" y="0" font-size="7.8" text-anchor="end" textLength="44" lengthAdjust="spacingAndGlyphs" stroke="#231f20" stroke-width="0.18">WEB-2086</text>
<text transform="translate(494.8,558.2) rotate(-45)" x="0" y="0" font-size="7.8" text-anchor="end" textLength="44" lengthAdjust="spacingAndGlyphs" stroke="#231f20" stroke-width="0.18">+ dasatinib</text>
<text x="436.5" y="599.9" font-size="8.2" text-anchor="middle" textLength="139.8" lengthAdjust="spacingAndGlyphs" stroke="#231f20" stroke-width="0.06">Leukemic burden in mice transplanted</text>
<text x="436.9" y="610.3" font-size="8.2" text-anchor="middle" textLength="117.0" lengthAdjust="spacingAndGlyphs" stroke="#231f20" stroke-width="0.06">with <tspan font-style="italic">Pafah1b3</tspan> KO+cDNA cells</text>
<line x1="378.8" y1="639.2" x2="378.8" y2="708.1" stroke="#000" stroke-width="1.5" />
<line x1="378.1" y1="707.4" x2="493.8" y2="707.4" stroke="#000" stroke-width="1.5" />
<line x1="375.3" y1="707.4" x2="378.8" y2="707.4" stroke="#000" stroke-width="1.2" />
<text x="372.9" y="710.2" font-size="8.2" text-anchor="end" textLength="5" lengthAdjust="spacingAndGlyphs" stroke="#231f20" stroke-width="0.34">0</text>
<line x1="375.3" y1="685.5" x2="378.8" y2="685.5" stroke="#000" stroke-width="1.2" />
<text x="372.9" y="688.3" font-size="8.2" text-anchor="end" textLength="10" lengthAdjust="spacingAndGlyphs" stroke="#231f20" stroke-width="0.34">10</text>
<line x1="375.3" y1="663.6" x2="378.8" y2="663.6" stroke="#000" stroke-width="1.2" />
<text x="372.9" y="666.4" font-size="8.2" text-anchor="end" textLength="10" lengthAdjust="spacingAndGlyphs" stroke="#231f20" stroke-width="0.34">20</text>
<line x1="375.3" y1="641.7" x2="378.8" y2="641.7" stroke="#000" stroke-width="1.2" />
<text x="372.9" y="644.5" font-size="8.2" text-anchor="end" textLength="10" lengthAdjust="spacingAndGlyphs" stroke="#231f20" stroke-width="0.34">30</text>
<text transform="translate(338.2,673.4) rotate(-90)" x="0" y="0" font-size="9.2" text-anchor="middle" textLength="77.4" lengthAdjust="spacingAndGlyphs" stroke="#231f20" stroke-width="0.55">Total flux post-treatment</text>
<line x1="344.2" y1="632" x2="344.2" y2="714.5" stroke="#000" stroke-width="1.2" />
<text transform="translate(357,672.7) rotate(-90)" x="0" y="0" font-size="9.2" text-anchor="middle" textLength="73.4" lengthAdjust="spacingAndGlyphs" stroke="#231f20" stroke-width="0.55">Total flux pre-treatment</text>
<line x1="396.7" y1="707.4" x2="396.7" y2="710.7" stroke="#000" stroke-width="1.2" />
<line x1="423.3" y1="707.4" x2="423.3" y2="710.7" stroke="#000" stroke-width="1.2" />
<line x1="449.9" y1="707.4" x2="449.9" y2="710.7" stroke="#000" stroke-width="1.2" />
<line x1="476.5" y1="707.4" x2="476.5" y2="710.7" stroke="#000" stroke-width="1.2" />
<line x1="396.7" y1="659.66" x2="396.7" y2="687.25" stroke="#4f5360" stroke-width="1.4" />
<line x1="392.1" y1="659.66" x2="401.3" y2="659.66" stroke="#4f5360" stroke-width="1.4" />
<line x1="392.1" y1="687.25" x2="401.3" y2="687.25" stroke="#4f5360" stroke-width="1.4" />
<line x1="387.9" y1="673.89" x2="405.5" y2="673.89" stroke="#2f3442" stroke-width="1.4" />
<circle cx="396.7" cy="656.37" r="1.9" fill="#4f5360"/>
<circle cx="394.3" cy="673.24" r="1.9" fill="#4f5360"/>
<circle cx="398.9" cy="675.43" r="1.9" fill="#4f5360"/>
<circle cx="396.7" cy="689.88" r="1.9" fill="#4f5360"/>
<line x1="423.3" y1="664.91" x2="423.3" y2="677.62" stroke="#c61f7d" stroke-width="1.4" />
<line x1="418.9" y1="664.91" x2="427.7" y2="664.91" stroke="#c61f7d" stroke-width="1.4" />
<line x1="418.9" y1="677.62" x2="427.7" y2="677.62" stroke="#c61f7d" stroke-width="1.4" />
<line x1="414.7" y1="671.48" x2="431.9" y2="671.48" stroke="#2f1a28" stroke-width="1.4" />
<circle cx="423.3" cy="666.67" r="1.6" fill="#c61f7d"/>
<circle cx="423.3" cy="676.08" r="1.6" fill="#c61f7d"/>
<line x1="441.1" y1="702.36" x2="458.7" y2="702.36" stroke="#c8862a" stroke-width="1.4" />
<circle cx="446.4" cy="702.36" r="1.5" fill="#e7a33d"/>
<circle cx="449.9" cy="702.36" r="1.5" fill="#e7a33d"/>
<circle cx="453.4" cy="702.36" r="1.5" fill="#e7a33d"/>
<line x1="449.9" y1="702.36" x2="449.9" y2="707.4" stroke="#e7a33d" stroke-width="1" />
<line x1="476.5" y1="694.48" x2="476.5" y2="705.21" stroke="#4b2c6f" stroke-width="1.3" />
<line x1="471.9" y1="694.48" x2="481.1" y2="694.48" stroke="#4b2c6f" stroke-width="1.4" />
<line x1="467.7" y1="700.61" x2="485.3" y2="700.61" stroke="#221b2e" stroke-width="1.4" />
<circle cx="476.5" cy="692.07" r="1.6" fill="#4b2c6f"/>
<circle cx="474.7" cy="704.12" r="1.6" fill="#4b2c6f"/>
<circle cx="478.3" cy="704.55" r="1.6" fill="#4b2c6f"/>
<circle cx="476" cy="701.71" r="1.6" fill="#4b2c6f"/>
<polyline points="396.7,628 396.7,624.2 474.5,624.2 474.5,630" stroke="#111" stroke-width="1.45" fill="none" stroke-linejoin="miter" />
<polyline points="396.7,643.8 396.7,634.6 448.2,634.6 448.2,637" stroke="#111" stroke-width="1.45" fill="none" stroke-linejoin="miter" />
<polyline points="423.3,650 423.3,647 448.9,647 448.9,649.8" stroke="#111" stroke-width="1.45" fill="none" stroke-linejoin="miter" />
<polyline points="423.3,661.8 423.3,658.4 475.6,658.4 475.6,681.8" stroke="#111" stroke-width="1.45" fill="none" stroke-linejoin="miter" />
<text x="416.2" y="622.4" font-size="8.2" textLength="39.4" lengthAdjust="spacingAndGlyphs" stroke="#231f20" stroke-width="0.18">p = 0.0113</text>
<text x="402.6" y="632.1" font-size="8.2" textLength="39.6" lengthAdjust="spacingAndGlyphs" stroke="#231f20" stroke-width="0.18">p = 0.0159</text>
<text x="416.4" y="643.8" font-size="8.2" textLength="39.2" lengthAdjust="spacingAndGlyphs" stroke="#231f20" stroke-width="0.18">p = 0.0023</text>
<text x="429.6" y="656" font-size="8.2" textLength="38.4" lengthAdjust="spacingAndGlyphs" stroke="#231f20" stroke-width="0.18">p = 0.0047</text>
<text transform="translate(400.1,717.2) rotate(-45)" x="0" y="0" font-size="7.8" text-anchor="end" textLength="25.5" lengthAdjust="spacingAndGlyphs" stroke="#231f20" stroke-width="0.18">vehicle</text>
<text transform="translate(426.7,717.2) rotate(-45)" x="0" y="0" font-size="7.8" text-anchor="end" textLength="44" lengthAdjust="spacingAndGlyphs" stroke="#231f20" stroke-width="0.18">WEB-2086</text>
<text transform="translate(453.3,717.2) rotate(-45)" x="0" y="0" font-size="7.8" text-anchor="end" textLength="34.8" lengthAdjust="spacingAndGlyphs" stroke="#231f20" stroke-width="0.18">dasatinib</text>
<text transform="translate(479.9,717.2) rotate(-45)" x="0" y="0" font-size="7.8" text-anchor="end" textLength="44" lengthAdjust="spacingAndGlyphs" stroke="#231f20" stroke-width="0.18">WEB-2086</text>
<text transform="translate(489.2,726.2) rotate(-45)" x="0" y="0" font-size="7.8" text-anchor="end" textLength="44" lengthAdjust="spacingAndGlyphs" stroke="#231f20" stroke-width="0.18">+ dasatinib</text>
</g>
<rect x="0.5" y="0.5" width="519" height="759" fill="none" stroke="#000" stroke-width="1.2"/>
</svg>
</body></html>
